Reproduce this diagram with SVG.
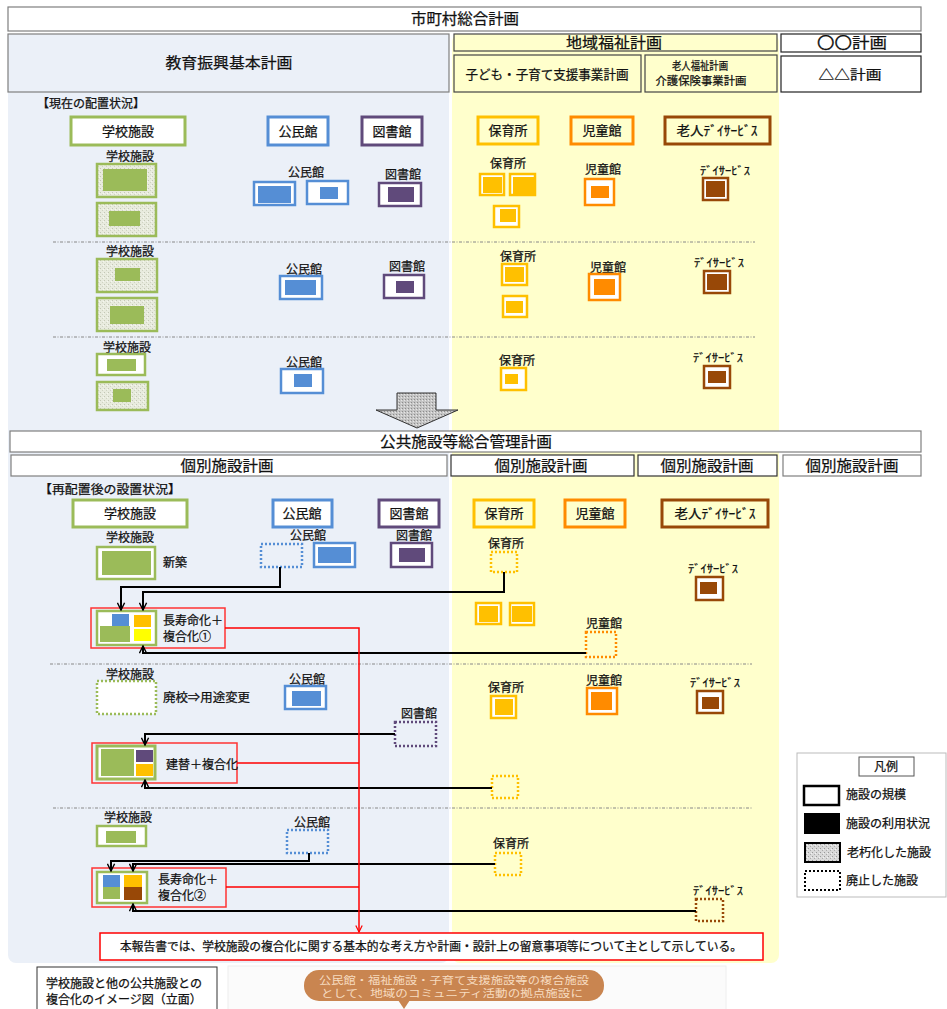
<svg xmlns="http://www.w3.org/2000/svg" width="947" height="1009" viewBox="0 0 947 1009">
<style>
text{font-family:"Noto Sans CJK JP","Noto Sans",sans-serif;fill:#111;stroke:#111;stroke-width:0.25;}
.c{text-anchor:middle;}
.h15{font-size:15px;}
.h13{font-size:13px;}
.h12{font-size:12px;}
.s11{font-size:11px;}
.s10{font-size:10px;}
.bub{font-size:10px;fill:#f7dcc0;stroke:none;}
.hb{fill:#fff;stroke:#7f7f7f;stroke-width:1.2;}
.hy{fill:#ffffcc;stroke:#444;stroke-width:1.2;}
.g{stroke:#9bbb59;stroke-width:2.5;}
.b{stroke:#558ed5;stroke-width:2.5;}
.p{stroke:#604a7b;stroke-width:2.5;}
.y{stroke:#ffc000;stroke-width:2.5;}
.o{stroke:#ff8b00;stroke-width:2.5;}
.r{stroke:#984807;stroke-width:2.5;}
.w{fill:#fff;}
.n{fill:none;}
.ag{fill:url(#aged);}
.dot{stroke-dasharray:2 2;}
.fg{fill:#9bbb59;}.fb{fill:#558ed5;}.fp{fill:#604a7b;}.fy{fill:#ffc000;}.fo{fill:#ff8b00;}.fr{fill:#984807;}.fyy{fill:#ffff00;}
.hd{stroke-width:3;}
.sep{stroke:#888;stroke-width:1;stroke-dasharray:3 1.5 1 1.5;fill:none;}
.con{stroke:#000;stroke-width:2;fill:none;}
.red{stroke:#ff0000;stroke-width:1.5;fill:none;}
</style>
<defs>
<pattern id="aged" width="4" height="4" patternUnits="userSpaceOnUse"><rect width="4" height="4" fill="#e8ebde"/><rect x="0" y="0" width="1" height="1" fill="#c3c7b5"/><rect x="2" y="2" width="1" height="1" fill="#cfd3c2"/><rect x="3" y="1" width="1" height="1" fill="#f6f7f0"/></pattern>
<pattern id="agedGrey" width="4" height="4" patternUnits="userSpaceOnUse"><rect width="4" height="4" fill="#d9d9d9"/><rect x="0" y="0" width="1" height="1" fill="#999"/><rect x="2" y="2" width="1" height="1" fill="#aaa"/><rect x="3" y="1" width="1" height="1" fill="#f2f2f2"/></pattern>
<pattern id="arrowFill" width="3" height="3" patternUnits="userSpaceOnUse"><rect width="3" height="3" fill="#c4c4c4"/><rect x="0" y="0" width="1" height="1" fill="#8c8c8c"/><rect x="2" y="1" width="1" height="1" fill="#e6e6e6"/></pattern>
<marker id="arr" viewBox="0 0 10 10" refX="9" refY="5" markerWidth="9" markerHeight="9" orient="auto" markerUnits="userSpaceOnUse"><path d="M1,1 L9,5 L1,9" fill="none" stroke="#000" stroke-width="1.6"/></marker>
<marker id="arrR" viewBox="0 0 10 10" refX="9" refY="5" markerWidth="8" markerHeight="8" orient="auto" markerUnits="userSpaceOnUse"><path d="M1,1 L9,5 L1,9" fill="none" stroke="#ff0000" stroke-width="1.5"/></marker>
</defs>

<!-- panels -->
<g id="panels">
<rect x="8" y="34" width="441" height="929" rx="8" fill="#ebf0f8"/>
<rect x="452" y="34" width="327" height="929" rx="8" fill="#ffffcc"/>
</g>

<!-- plan headers -->
<g id="plan-headers">
<g id="h-sogo"><rect class="hb" x="8" y="7" width="913" height="24"/><text class="c h15" x="465" y="24" textLength="108" lengthAdjust="spacingAndGlyphs">市町村総合計画</text></g>
<g id="h-kyoiku"><rect x="8" y="34" width="441" height="58" fill="#ebf0f8" stroke="#7f7f7f" stroke-width="1.2"/><text class="c h15" x="229" y="68" textLength="127" lengthAdjust="spacingAndGlyphs">教育振興基本計画</text></g>
<g id="h-fukushi"><rect class="hy" x="454" y="34" width="323" height="17"/><text class="c h15" x="614" y="48" textLength="96" lengthAdjust="spacingAndGlyphs">地域福祉計画</text></g>
<g id="h-kodomo"><rect class="hy" x="454" y="55" width="187" height="37"/><text class="c h13" x="547" y="79" textLength="163" lengthAdjust="spacingAndGlyphs">子ども・子育て支援事業計画</text></g>
<g id="h-rojin"><rect class="hy" x="645" y="55" width="132" height="37"/><text class="c s11" x="700" y="70" textLength="56" lengthAdjust="spacingAndGlyphs">老人福祉計画</text><text class="c s11" x="701" y="85" textLength="91" lengthAdjust="spacingAndGlyphs">介護保険事業計画</text></g>
<g id="h-maru"><rect x="781" y="34" width="140" height="18" fill="#fff" stroke="#222" stroke-width="1.2"/><text class="c h15" x="852" y="48" textLength="70" lengthAdjust="spacingAndGlyphs">〇〇計画</text></g>
<g id="h-sankaku"><rect x="781" y="56" width="140" height="36" fill="#fff" stroke="#222" stroke-width="1.2"/><text class="c h13" x="850" y="79" textLength="63" lengthAdjust="spacingAndGlyphs">△△計画</text></g>
</g>

<!-- section 1 -->
<g id="section1">
<text class="h12" x="37" y="108">【現在の配置状況】</text>
<g id="s1-hdr-gakko"><rect class="w g hd" x="71" y="117" width="114" height="28"/><text class="c h13" x="128" y="136">学校施設</text></g>
<g id="s1-hdr-kominkan"><rect class="w b hd" x="268" y="117" width="60" height="28"/><text class="c h13" x="298" y="136">公民館</text></g>
<g id="s1-hdr-tosho"><rect class="w p hd" x="362" y="117" width="60" height="28"/><text class="c h13" x="392" y="136">図書館</text></g>
<g id="s1-hdr-hoiku"><rect class="n y hd" x="478" y="117" width="60" height="27"/><text class="c h13" x="508" y="135">保育所</text></g>
<g id="s1-hdr-jido"><rect class="n o hd" x="571" y="117" width="62" height="27"/><text class="c h13" x="602" y="135">児童館</text></g>
<g id="s1-hdr-day"><rect class="n r hd" x="665" y="117" width="105" height="27"/><text class="c h13" x="717" y="135" textLength="81" lengthAdjust="spacingAndGlyphs">老人ﾃﾞｲｻｰﾋﾞｽ</text></g>

<!-- row 1 -->
<g id="s1r1-gakko"><text class="c h12" x="130" y="161">学校施設</text>
<rect class="ag g" x="97" y="164" width="59" height="33"/><rect class="fg" x="103" y="169" width="44" height="22"/>
<rect class="ag g" x="97" y="203" width="59" height="33"/><rect class="fg" x="109" y="211" width="31" height="15"/></g>
<g id="s1r1-kominkan"><text class="c h12" x="306" y="177">公民館</text>
<rect class="w b" x="254" y="182" width="41" height="23"/><rect class="fb" x="258" y="186" width="33" height="17"/>
<rect class="w b" x="307" y="181" width="41" height="23"/><rect class="fb" x="320" y="187" width="18" height="12"/></g>
<g id="s1r1-tosho"><text class="c h12" x="403" y="179">図書館</text>
<rect class="w p" x="379" y="183" width="42" height="23"/><rect class="fp" x="388" y="187" width="26" height="15"/></g>
<g id="s1r1-hoiku"><text class="c h12" x="508" y="168">保育所</text>
<rect class="w y" x="480" y="174" width="24" height="21"/><rect class="fy" x="483" y="177" width="19" height="16"/>
<rect class="w y" x="510" y="174" width="25" height="21"/><rect class="fy" x="513" y="177" width="21" height="17"/>
<rect class="w y" x="494" y="206" width="25" height="21"/><rect class="fy" x="500" y="209" width="16" height="13"/></g>
<g id="s1r1-jido"><text class="c h12" x="603" y="174">児童館</text>
<rect class="w o" x="585" y="179" width="29" height="26"/><rect class="fo" x="591" y="186" width="18" height="12"/></g>
<g id="s1r1-day"><text class="c s11" x="725" y="175" textLength="50" lengthAdjust="spacingAndGlyphs">ﾃﾞｲｻｰﾋﾞｽ</text>
<rect class="w r" x="703" y="178" width="25" height="22"/><rect class="fr" x="706" y="181" width="19" height="16"/></g>
<line class="sep" x1="53" y1="242" x2="755" y2="242"/>

<!-- row 2 -->
<g id="s1r2-gakko"><text class="c h12" x="130" y="256">学校施設</text>
<rect class="ag g" x="97" y="259" width="60" height="33"/><rect class="fg" x="115" y="268" width="25" height="13"/>
<rect class="ag g" x="97" y="298" width="60" height="33"/><rect class="fg" x="110" y="306" width="34" height="18"/></g>
<g id="s1r2-kominkan"><text class="c h12" x="304" y="274">公民館</text>
<rect class="w b" x="280" y="276" width="42" height="23"/><rect class="fb" x="285" y="280" width="31" height="15"/></g>
<g id="s1r2-tosho"><text class="c h12" x="407" y="271">図書館</text>
<rect class="w p" x="384" y="275" width="40" height="23"/><rect class="fp" x="396" y="281" width="18" height="12"/></g>
<g id="s1r2-hoiku"><text class="c h12" x="518" y="261">保育所</text>
<rect class="w y" x="502" y="264" width="25" height="21"/><rect class="fy" x="505" y="267" width="19" height="15"/>
<rect class="w y" x="503" y="296" width="24" height="21"/><rect class="fy" x="506" y="301" width="17" height="12"/></g>
<g id="s1r2-jido"><text class="c h12" x="608" y="272">児童館</text>
<rect class="w o" x="589" y="274" width="31" height="26"/><rect class="fo" x="594" y="279" width="21" height="16"/></g>
<g id="s1r2-day"><text class="c s11" x="719" y="267" textLength="50" lengthAdjust="spacingAndGlyphs">ﾃﾞｲｻｰﾋﾞｽ</text>
<rect class="w r" x="704" y="271" width="26" height="22"/><rect class="fr" x="707" y="274" width="20" height="16"/></g>
<line class="sep" x1="53" y1="337" x2="755" y2="337"/>

<!-- row 3 -->
<g id="s1r3-gakko"><text class="c h12" x="127" y="352">学校施設</text>
<rect class="w g" x="97" y="354" width="48" height="21"/><rect class="fg" x="107" y="359" width="29" height="12"/>
<rect class="ag g" x="97" y="382" width="51" height="28"/><rect class="fg" x="113" y="389" width="18" height="13"/></g>
<g id="s1r3-kominkan"><text class="c h12" x="304" y="367">公民館</text>
<rect class="w b" x="281" y="369" width="42" height="24"/><rect class="fb" x="294" y="374" width="18" height="13"/></g>
<g id="s1r3-hoiku"><text class="c h12" x="517" y="365">保育所</text>
<rect class="w y" x="501" y="368" width="25" height="22"/><rect class="fy" x="505" y="374" width="13" height="10"/></g>
<g id="s1r3-day"><text class="c s11" x="718" y="362" textLength="50" lengthAdjust="spacingAndGlyphs">ﾃﾞｲｻｰﾋﾞｽ</text>
<rect class="w r" x="704" y="366" width="26" height="22"/><rect class="fr" x="708" y="371" width="18" height="12"/></g>
</g>

<g id="big-arrow"><polygon points="397,393 436,393 436,410 458,410 417,428 376,410 397,410" fill="url(#arrowFill)" stroke="#333" stroke-width="1"/></g>

<!-- section 2 headers -->
<g id="section2-headers">
<g id="h-kokyo"><rect class="hb" x="10" y="431" width="911" height="21"/><text class="c h15" x="466" y="447" textLength="172" lengthAdjust="spacingAndGlyphs">公共施設等総合管理計画</text></g>
<g id="h-kobetsu1"><rect class="hb" x="11" y="455" width="436" height="21"/><text class="c h15" x="227" y="471" textLength="93" lengthAdjust="spacingAndGlyphs">個別施設計画</text></g>
<g id="h-kobetsu2"><rect x="451" y="455" width="183" height="21" fill="#fff" stroke="#333" stroke-width="1.2"/><text class="c h15" x="541" y="471" textLength="93" lengthAdjust="spacingAndGlyphs">個別施設計画</text></g>
<g id="h-kobetsu3"><rect x="638" y="455" width="139" height="21" fill="#fff" stroke="#333" stroke-width="1.2"/><text class="c h15" x="707" y="471" textLength="93" lengthAdjust="spacingAndGlyphs">個別施設計画</text></g>
<g id="h-kobetsu4"><rect class="hb" x="783" y="455" width="138" height="21"/><text class="c h15" x="852" y="471" textLength="93" lengthAdjust="spacingAndGlyphs">個別施設計画</text></g>
</g>

<g id="section2">
<text class="h12" x="39" y="494" textLength="142" lengthAdjust="spacingAndGlyphs">【再配置後の設置状況】</text>
<g id="s2-hdr-gakko"><rect class="w g hd" x="73" y="500" width="114" height="27"/><text class="c h13" x="130" y="518">学校施設</text></g>
<g id="s2-hdr-kominkan"><rect class="w b hd" x="273" y="500" width="59" height="27"/><text class="c h13" x="302" y="518">公民館</text></g>
<g id="s2-hdr-tosho"><rect class="w p hd" x="379" y="500" width="60" height="27"/><text class="c h13" x="409" y="518">図書館</text></g>
<g id="s2-hdr-hoiku"><rect class="n y hd" x="474" y="500" width="60" height="27"/><text class="c h13" x="504" y="518">保育所</text></g>
<g id="s2-hdr-jido"><rect class="n o hd" x="565" y="500" width="60" height="27"/><text class="c h13" x="595" y="518">児童館</text></g>
<g id="s2-hdr-day"><rect class="n r hd" x="662" y="500" width="106" height="27"/><text class="c h13" x="715" y="518" textLength="81" lengthAdjust="spacingAndGlyphs">老人ﾃﾞｲｻｰﾋﾞｽ</text></g>

<!-- row A -->
<g id="s2a-gakko"><text class="c h12" x="130" y="542">学校施設</text>
<rect class="w g" x="97" y="547" width="58" height="32"/><rect class="fg" x="102" y="551" width="49" height="24"/>
<text class="h12" x="163" y="567">新築</text></g>
<g id="s2a-kominkan"><text class="c h12" x="308" y="540">公民館</text>
<rect class="n b dot" x="261" y="544" width="41" height="23"/>
<rect class="w b" x="314" y="543" width="41" height="24"/><rect class="fb" x="318" y="547" width="33" height="16"/></g>
<g id="s2a-tosho"><text class="c h12" x="414" y="540">図書館</text>
<rect class="w p" x="391" y="543" width="41" height="24"/><rect class="fp" x="399" y="548" width="26" height="14"/></g>
<g id="s2a-hoiku-old"><text class="c h12" x="506" y="548">保育所</text>
<rect class="n y dot" x="491" y="552" width="26" height="20"/></g>
<g id="s2a-day"><text class="c s11" x="713" y="573" textLength="50" lengthAdjust="spacingAndGlyphs">ﾃﾞｲｻｰﾋﾞｽ</text>
<rect class="w r" x="696" y="577" width="27" height="23"/><rect class="fr" x="700" y="582" width="17" height="12"/></g>
<g id="s2a-hoiku"><rect class="w y" x="476" y="603" width="25" height="21"/><rect class="fy" x="479" y="606" width="19" height="16"/>
<rect class="w y" x="510" y="603" width="24" height="22"/><rect class="fy" x="512" y="606" width="20" height="16"/></g>
<g id="s2a-jido-old"><text class="c h12" x="604" y="628">児童館</text>
<rect class="n o dot" x="586" y="632" width="30" height="25"/></g>
<g id="s2a-complex1"><rect class="n" stroke="#ff3333" stroke-width="1.5" x="91" y="608" width="134" height="40"/>
<rect class="w g" x="97" y="611" width="59" height="34"/>
<rect class="fb" x="112" y="614" width="17" height="12"/><rect class="fg" x="100" y="626" width="30" height="16"/>
<rect class="fy" x="134" y="615" width="17" height="12"/><rect class="fyy" x="134" y="629" width="17" height="12"/>
<text class="h12" x="163" y="625">長寿命化＋</text><text class="h12" x="163" y="641">複合化①</text></g>
<line class="sep" x1="50" y1="664" x2="752" y2="664"/>

<!-- row B -->
<g id="s2b-gakko"><text class="c h12" x="130" y="679">学校施設</text>
<rect class="w g dot" x="97" y="681" width="59" height="33"/>
<text class="h12" x="163" y="702" textLength="87" lengthAdjust="spacingAndGlyphs">廃校⇒用途変更</text></g>
<g id="s2b-kominkan"><text class="c h12" x="307" y="684">公民館</text>
<rect class="w b" x="285" y="686" width="41" height="23"/><rect class="fb" x="292" y="691" width="29" height="15"/></g>
<g id="s2b-tosho-old"><text class="c h12" x="419" y="718">図書館</text>
<rect class="n p dot" x="395" y="722" width="41" height="24"/></g>
<g id="s2b-hoiku"><text class="c h12" x="506" y="692">保育所</text>
<rect class="w y" x="491" y="696" width="25" height="22"/><rect class="fy" x="495" y="699" width="18" height="16"/></g>
<g id="s2b-jido"><text class="c h12" x="604" y="685">児童館</text>
<rect class="w o" x="587" y="688" width="30" height="26"/><rect class="fo" x="591" y="692" width="21" height="18"/></g>
<g id="s2b-day"><text class="c s11" x="715" y="687" textLength="50" lengthAdjust="spacingAndGlyphs">ﾃﾞｲｻｰﾋﾞｽ</text>
<rect class="w r" x="697" y="691" width="26" height="22"/><rect class="fr" x="702" y="697" width="17" height="12"/></g>
<g id="s2b-hoiku-old"><rect class="n y dot" x="492" y="776" width="26" height="22"/></g>
<g id="s2b-complex"><rect class="n" stroke="#ff3333" stroke-width="1.5" x="92" y="743" width="145" height="40"/>
<rect class="w g hd" x="97" y="746" width="58" height="33"/>
<rect class="fg" x="101" y="749" width="33" height="27"/><rect class="fp" x="136" y="750" width="17" height="12"/><rect class="fy" x="136" y="764" width="17" height="12"/>
<text class="h12" x="166" y="769">建替＋複合化</text></g>
<line class="sep" x1="53" y1="808" x2="753" y2="808"/>

<!-- row C -->
<g id="s2c-gakko"><text class="c h12" x="128" y="822">学校施設</text>
<rect class="w g" x="97" y="826" width="49" height="20"/><rect class="fg" x="106" y="831" width="30" height="12"/></g>
<g id="s2c-kominkan-old"><text class="c h12" x="312" y="827">公民館</text>
<rect class="n b dot" x="287" y="830" width="41" height="23"/></g>
<g id="s2c-hoiku-old"><text class="c h12" x="511" y="848">保育所</text>
<rect class="n y dot" x="495" y="853" width="26" height="22"/></g>
<g id="s2c-day-old"><text class="c s11" x="718" y="895" textLength="50" lengthAdjust="spacingAndGlyphs">ﾃﾞｲｻｰﾋﾞｽ</text>
<rect class="n r dot" x="696" y="899" width="27" height="22"/></g>
<g id="s2c-complex2"><rect class="n" stroke="#ff3333" stroke-width="1.5" x="92" y="868" width="134" height="39"/>
<rect class="w g" x="97" y="872" width="50" height="31"/>
<rect class="fb" x="103" y="875" width="17" height="12"/><rect class="fg" x="103" y="887" width="17" height="12"/>
<rect class="fy" x="124" y="875" width="18" height="12"/><rect class="fr" x="124" y="887" width="18" height="13"/>
<text class="h12" x="158" y="884">長寿命化＋</text><text class="h12" x="158" y="900">複合化②</text></g>
</g>

<!-- connectors -->
<g id="connectors">
<polyline class="con" points="280,567 280,587 121,587 121,610" marker-end="url(#arr)"/>
<polyline class="con" points="504,572 504,592 143,592 143,610" marker-end="url(#arr)"/>
<polyline class="con" points="586,653 143,653 143,646" marker-end="url(#arr)"/>
<polyline class="con" points="395,734 145,734 145,745" marker-end="url(#arr)"/>
<polyline class="con" points="492,788 145,788 145,780" marker-end="url(#arr)"/>
<polyline class="con" points="309,853 309,861 111,861 111,871" marker-end="url(#arr)"/>
<polyline class="con" points="495,864 133,864 133,871" marker-end="url(#arr)"/>
<polyline class="con" points="696,911 133,911 133,904" marker-end="url(#arr)"/>
<polyline class="red" points="225,628 359,628 359,932" marker-end="url(#arrR)"/>
<line class="red" x1="237" y1="763" x2="359" y2="763"/>
<line class="red" x1="226" y1="887" x2="359" y2="887"/>
</g>

<g id="note"><rect x="100" y="933" width="663" height="27" fill="#fff" stroke="#ff0000" stroke-width="1.5"/>
<text class="c h12" x="431" y="951" textLength="622" lengthAdjust="spacingAndGlyphs">本報告書では、学校施設の複合化に関する基本的な考え方や計画・設計上の留意事項等について主として示している。</text></g>

<g id="legend">
<rect x="797" y="753" width="149" height="144" fill="#fff" stroke="#bbb" stroke-width="1"/>
<rect x="859" y="757" width="55" height="19" fill="#fff" stroke="#555" stroke-width="1"/><text class="c h12" x="886" y="771">凡例</text>
<rect x="804" y="786" width="35" height="19" fill="#fff" stroke="#000" stroke-width="2.5"/><text class="h12" x="846" y="799">施設の規模</text>
<rect x="804" y="813" width="36" height="21" fill="#000"/><text class="h12" x="846" y="828">施設の利用状況</text>
<rect x="805" y="843" width="35" height="19" fill="url(#agedGrey)" stroke="#000" stroke-width="2"/><text class="h12" x="847" y="857">老朽化した施設</text>
<rect x="805" y="871" width="35" height="19" fill="#fff" stroke="#000" stroke-width="2" stroke-dasharray="2 2"/><text class="h12" x="846" y="885">廃止した施設</text>
</g>

<g id="caption"><rect x="37" y="967" width="180" height="50" fill="#fff" stroke="#333" stroke-width="1"/>
<text class="h12" x="46" y="988">学校施設と他の公共施設との</text><text class="h12" x="46" y="1004">複合化のイメージ図（立面）</text></g>

<g id="image-bubble"><rect x="228" y="966" width="498" height="50" fill="#fbfbfb" stroke="#eee" stroke-width="1"/>
<rect x="304" y="970" width="300" height="31" rx="15" fill="#c98550"/>
<polygon points="398,1000 410,1000 404,1009" fill="#c98550"/>
<text class="c bub" x="454" y="984" textLength="270" lengthAdjust="spacingAndGlyphs">公民館・福祉施設・子育て支援施設等の複合施設</text>
<text class="c bub" x="452" y="997" textLength="262" lengthAdjust="spacingAndGlyphs">として、地域のコミュニティ活動の拠点施設に</text></g>
</svg>
